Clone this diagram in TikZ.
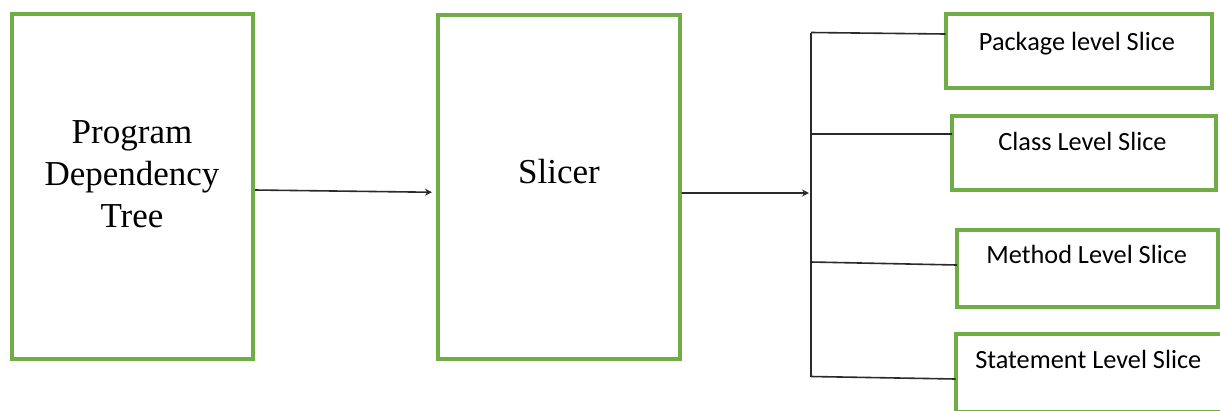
\documentclass[tikz,border=0pt]{standalone}
\usepackage{fontspec}
\setmainfont{Liberation Serif}
\newfontfamily\calfont{Carlito}
\usetikzlibrary{arrows.meta}
\definecolor{boxgreen}{HTML}{70AD47}
\definecolor{linegray}{HTML}{2A2A2A}
\begin{document}
\begin{tikzpicture}[x=1bp,y=-1bp,
  box/.style={draw=boxgreen, line width=4bp, rectangle, inner sep=0pt, outer sep=0pt},
  conn/.style={draw=linegray, line width=1.6bp},
  arr/.style={conn, -{Stealth[length=7bp,width=7bp]}},
  big/.style={font=\fontsize{35bp}{42bp}\selectfont, align=center, inner sep=0pt},
  small/.style={font=\calfont\fontsize{26.3bp}{30bp}\selectfont, anchor=base, inner sep=0pt}]
\useasboundingbox (0,0) rectangle (1220,410);
% boxes
\node[box, minimum width=240.5bp, minimum height=345bp] (pdt) at (132.25,186.5) {};
\node[box, minimum width=242bp, minimum height=344.5bp] (slicer) at (558.5,186.75) {};
\node[box, minimum width=266.5bp, minimum height=74bp] (pkg) at (1078.75,51) {};
\node[box, minimum width=264bp, minimum height=74bp] (cls) at (1084,152.5) {};
\node[box, minimum width=260.5bp, minimum height=77.5bp] (mth) at (1087.25,268.25) {};
\node[box, minimum width=269.5bp, minimum height=78bp] (stm) at (1090.25,373) {};
% texts
\node[big, anchor=base] (pdtl) at (132,227) {Program\\Dependency\\Tree};
\node[big, anchor=base] (slcl) at (559,183) {Slicer};
\node[small] (pkgl) at (1077,50) {Package level Slice};
\node[small] (clsl) at (1082.5,150) {Class Level Slice};
\node[small] (mthl) at (1086.7,263) {Method Level Slice};
\node[small] (stml) at (1088.3,368.3) {Statement Level Slice};
% connectors
\coordinate (fork) at (811,193);
\coordinate (b1) at (811,32.5);
\coordinate (b2) at (811,134);
\coordinate (b3) at (811,262);
\coordinate (b4) at (811,376.5);
\draw[arr] ([xshift=2.5bp,yshift=-3.5bp]pdt.east) -- ([xshift=-5.5bp,yshift=-5.5bp]slicer.west);
\draw[arr] ([xshift=2bp,yshift=-6.25bp]slicer.east) -- ([xshift=-2bp]fork);
\draw[conn] (b1) -- (b4);
\draw[conn] (b1) -- ([yshift=17bp]pkg.west);
\draw[conn] (b2) -- ([yshift=18.5bp]cls.west);
\draw[conn] (b3) -- ([yshift=3.25bp]mth.west);
\draw[conn] (b4) -- ([yshift=-6bp]stm.west);
\end{tikzpicture}
\end{document}
